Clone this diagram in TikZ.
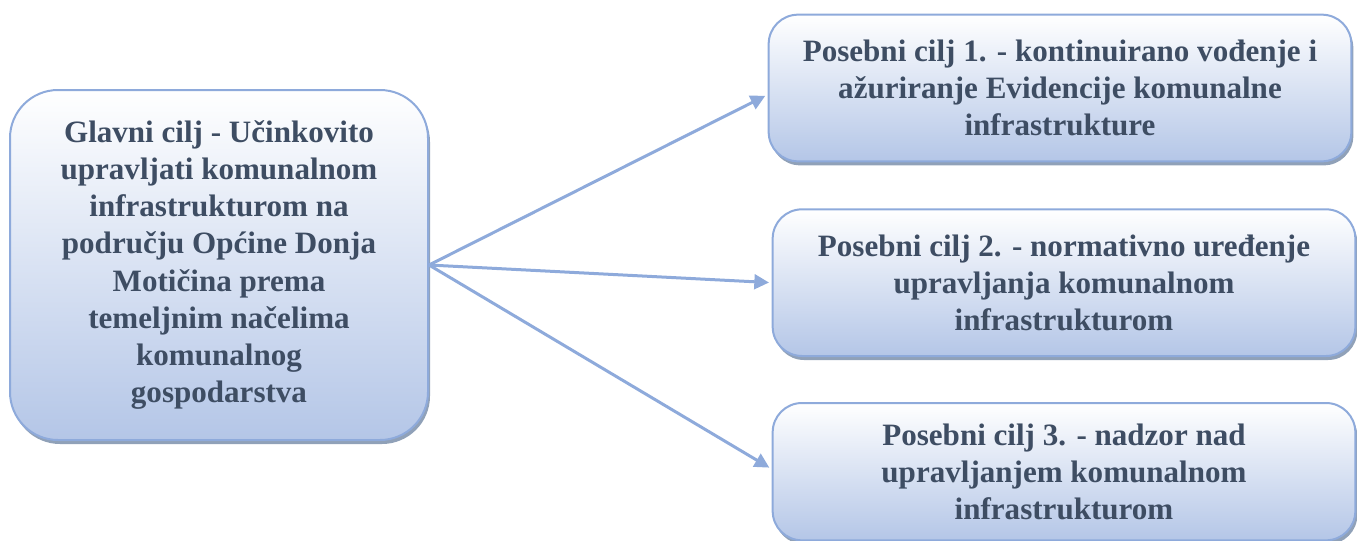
\documentclass[tikz,border=0pt]{standalone}
\usepackage{fontspec}
\setmainfont{Liberation Serif}
\usetikzlibrary{
    arrows.meta,
    positioning,
    shadows
}
\definecolor{goalline}{HTML}{8EAADB}
\definecolor{goaltext}{HTML}{3E4D63}
\definecolor{goalfill}{HTML}{B4C6E7}
\definecolor{goalshadow}{HTML}{8497B0}

\begin{document}
\begin{tikzpicture}[
    x=0.75pt, y=-0.75pt,
    goalbox/.style  = {rectangle, draw=goalline, line width=1.5pt,
                       top color=white, bottom color=goalfill,
                       drop shadow={shadow xshift=1.5pt, shadow yshift=-3pt,
                                    fill=goalshadow, opacity=0.9},
                       text=goaltext, align=center, inner sep=0pt,
                       font=\bfseries\fontsize{23.3}{27.8}\selectfont},
    mainbox/.style  = {goalbox, minimum width=313.5pt, minimum height=262.5pt,
                       rounded corners=36pt},
    subbox/.style   = {goalbox, minimum width=437pt, minimum height=110pt,
                       rounded corners=22pt},
    link/.style     = {-{Triangle[length=11pt, width=11pt]}, draw=goalline,
                       line width=2.25pt, shorten >=2pt},
]
    \useasboundingbox (0,0) rectangle (1357,540);

    %Nodes
    \node[mainbox]  (glavni)  at (219,265)  {Glavni cilj - Učinkovito\\
        upravljati komunalnom\\ infrastrukturom na\\ području Općine Donja\\
        Motičina prema\\ temeljnim načelima\\ komunalnog\\ gospodarstva};
    \node[subbox]   (cilj1)   at (1060,88)  {Posebni cilj 1. - kontinuirano
        vođenje i\\ ažuriranje Evidencije komunalne\\ infrastrukture};
    \node[subbox]   (cilj2)   [below=34.5pt of cilj1, xshift=3pt]
        {Posebni cilj 2. - normativno uređenje\\ upravljanja komunalnom\\
        infrastrukturom};
    \node[subbox, minimum height=103pt] (cilj3) [below=33.75pt of cilj2]
        {Posebni cilj 3. - nadzor nad\\ upravljanjem komunalnom\\
        infrastrukturom};

    %Lines
    \draw[link] (glavni.east) -- ([yshift=-5pt]cilj1.west);
    \draw[link] (glavni.east) -- (cilj2.west);
    \draw[link] (glavni.east) -- ([yshift=2pt]cilj3.west);
\end{tikzpicture}
\end{document}
